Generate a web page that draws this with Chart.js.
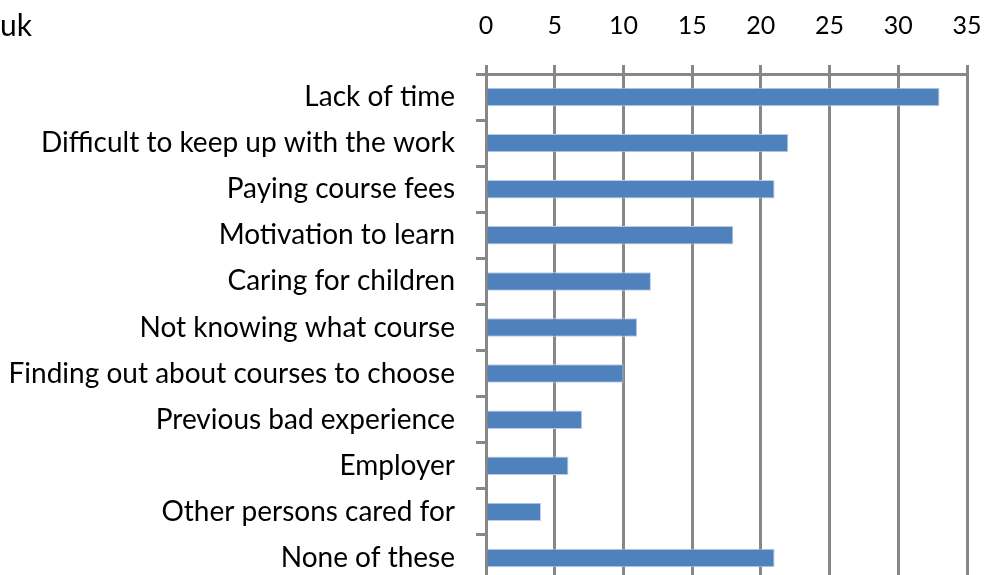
<!DOCTYPE html>
<html>
<head>
<meta charset="utf-8">
<script src="https://cdn.jsdelivr.net/npm/chart.js@4.4.1/dist/chart.umd.min.js"></script>
<style>
	html, body { margin: 0; padding: 0; background: #fff; overflow: hidden; }
	#wrap { position: relative; width: 987px; height: 575px; overflow: hidden; }
	#chart { position: absolute; left: 0; top: 0; }
	#title { position: absolute; left: 0; top: 6px; font: 30px Lato, sans-serif; color: #000; }
</style>
</head>
<body>
<div id="wrap">
	<canvas id="chart" width="987" height="600"></canvas>
	<div id="title">uk</div>
</div>
<script>
	// categories, top to bottom
	const categories = [
		"Lack of time",
		"Difficult to keep up with the work",
		"Paying course fees",
		"Motivation to learn",
		"Caring for children",
		"Not knowing what course",
		"Finding out about courses to choose",
		"Previous bad experience",
		"Employer",
		"Other persons cared for",
		"None of these"
	];
	const values = [33, 22, 21, 18, 12, 11, 10, 7, 6, 4, 21];
	const xTicks = [0, 5, 10, 15, 20, 25, 30, 35];

	const gridGray = '#878787';

	let ctx = document.getElementById('chart').getContext('2d');

	new Chart(ctx, {
		type: 'bar',
		data: {
			labels: categories,
			datasets: [{
				data: values,
				backgroundColor: '#4F81BD',
				borderColor: '#b9cde5',
				borderWidth: 1,
				barPercentage: 0.4,
				categoryPercentage: 1
			}]
		},
		options: {
			indexAxis: 'y',
			responsive: false,
			animation: false,
			layout: { padding: { left: 0, top: 0, right: 20, bottom: 19 } },
			plugins: {
				legend: { display: false },
				tooltip: { enabled: false }
			},
			scales: {
				x: {
					position: 'top',
					min: xTicks[0],
					max: xTicks[xTicks.length - 1],
					afterBuildTicks: (scale) => {
						scale.ticks = xTicks.map(v => ({ value: v }));
					},
					afterFit: (scale) => {
						scale.height = 74;
						scale.paddingLeft = 0;
						scale.paddingRight = 0;
					},
					ticks: { color: '#000', font: { family: 'Lato, sans-serif', size: 25 }, padding: 24, maxRotation: 0 },
					grid: { color: gridGray, lineWidth: 3, tickLength: 9 },
					border: { color: gridGray, width: 3 }
				},
				y: {
					afterFit: (scale) => {
						scale.width = 486;
						scale.paddingTop = 0;
						scale.paddingBottom = 0;
					},
					ticks: { color: '#000', font: { family: 'Lato, sans-serif', size: 28 }, padding: 21, autoSkip: false },
					grid: { offset: true, drawOnChartArea: false, color: gridGray, lineWidth: 3, tickLength: 10 },
					border: { color: gridGray, width: 3 }
				}
			}
		}
	});
</script>
</body>
</html>
